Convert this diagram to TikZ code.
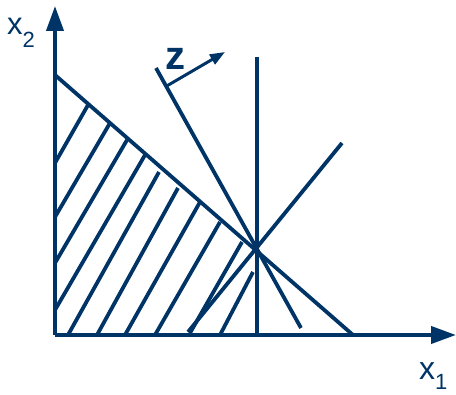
\documentclass[tikz,border=0pt]{standalone}
\usepackage{fontspec}
\setmainfont{Liberation Sans}
\usetikzlibrary{arrows.meta}
\definecolor{navy}{RGB}{0,52,102}
\begin{document}
\begin{tikzpicture}[x=1pt,y=1pt,
  ln/.style={draw=navy,line width=3.8pt},
  axis/.style={draw=navy,line width=4pt,-{Triangle[length=25pt,width=17pt]}},
  lbl/.style={text=navy,anchor=base west,inner sep=0pt}]
\useasboundingbox (0,0) rectangle (456,395);
% axes
\coordinate (O) at (55,60);
\coordinate (Ytop) at (55,389);
\coordinate (Xend) at (456,60);
\draw[axis] (O) -- (Ytop);
\draw[axis] (O) -- (Xend);
% constraint line
\coordinate (A) at (55,320);
\coordinate (B) at (353,60);
\draw[ln] (A) -- (B);
% vertical line
\coordinate (Vt) at (257,338);
\coordinate (Vb) at (257,60);
\draw[ln] (Vt) -- (Vb);
% objective lines
\coordinate (L2a) at (156,327);
\coordinate (L2b) at (301,67);
\draw[ln] (L2a) -- (L2b);
\coordinate (L3a) at (342,252);
\coordinate (L3b) at (188,63);
\draw[ln] (L3a) -- (L3b);
% z arrow
\coordinate (Za) at (165,308);
\coordinate (Zb) at (225,343);
\draw[draw=navy,line width=3pt,-{Triangle[length=15pt,width=11pt]}] (Za) -- (Zb);
\node[lbl,font=\fontsize{40}{40}\selectfont\bfseries] (zl) at (165,325) {z};
% hatching
\foreach \i/\a/\b/\c/\d in {1/55/232/88/290, 2/55/178/110/272, 3/55/132/127/255,
  4/55/85/145/240, 5/68/60/159/223, 6/97/60/178/207, 7/125/60/200/193,
  8/155/60/220/173, 9/190/62/242/153, 10/220/60/253/123}{
  \coordinate (h\i a) at (\a,\b);
  \coordinate (h\i b) at (\c,\d);
  \draw[ln] (h\i a) -- (h\i b);
}
% labels
\node[lbl,font=\fontsize{31}{31}\selectfont] (x2) at (7,360) {x\raisebox{-13pt}{\fontsize{22}{22}\selectfont 2}};
\node[lbl,font=\fontsize{32}{32}\selectfont] (x1) at (419,15) {x\raisebox{-10pt}{\fontsize{22}{22}\selectfont 1}};
\end{tikzpicture}
\end{document}
